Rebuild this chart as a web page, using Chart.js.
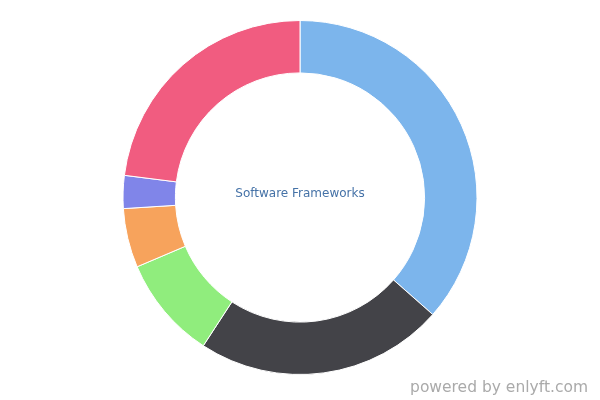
<!DOCTYPE html>
<html>
<head>
<meta charset="utf-8">
<script src="https://cdn.jsdelivr.net/npm/chart.js@4"></script>
<style>
  html, body { margin: 0; padding: 0; background: #fff; }
  #wrap { position: relative; width: 600px; height: 400px; }
  #credit {
    position: absolute; right: 12px; bottom: 4px;
    font-family: "DejaVu Sans", sans-serif; font-size: 15.5px; color: #aaaaaa;
  }
</style>
</head>
<body>
<div id="wrap">
  <canvas id="chart" width="600" height="400"></canvas>
  <div id="credit">powered by enlyft.com</div>
</div>
<script>
// slice shares (percent), clockwise from the top
const labels = ["Framework A", "Framework B", "Framework C", "Framework D", "Framework E", "Framework F"];
const shares = [36.5, 22.7, 9.4, 5.4, 3.0, 23.0];
const colors = ["#7cb5ec", "#434348", "#90ed7d", "#f7a35c", "#8085e9", "#f15c80"];
const centerTitle = "Software Frameworks";

// draws the title in the hole
const centerText = {
    id: 'centerText',
    afterDraw(chart) {
        const meta = chart.getDatasetMeta(0).data[0];
        if (!meta) return;
        const ctx = chart.ctx;
        ctx.save();
        ctx.font = '12px "DejaVu Sans", sans-serif';
        ctx.fillStyle = '#4572a7';
        ctx.textAlign = 'center';
        ctx.textBaseline = 'middle';
        ctx.fillText(centerTitle, meta.x, meta.y - 4);
        ctx.restore();
    }
};

new Chart(document.getElementById("chart"), {
    type: 'doughnut',
    data: {
        labels: labels,
        datasets: [{
            data: shares,
            backgroundColor: colors,
            borderColor: '#ffffff',
            borderWidth: 1
        }]
    },
    options: {
        responsive: false,
        animation: false,
        cutout: '70.4%',
        layout: {
            padding: { top: 20, bottom: 25, left: 0, right: 0 }
        },
        plugins: {
            legend: { display: false },
            tooltip: { enabled: false }
        }
    },
    plugins: [centerText]
});
</script>
</body>
</html>
